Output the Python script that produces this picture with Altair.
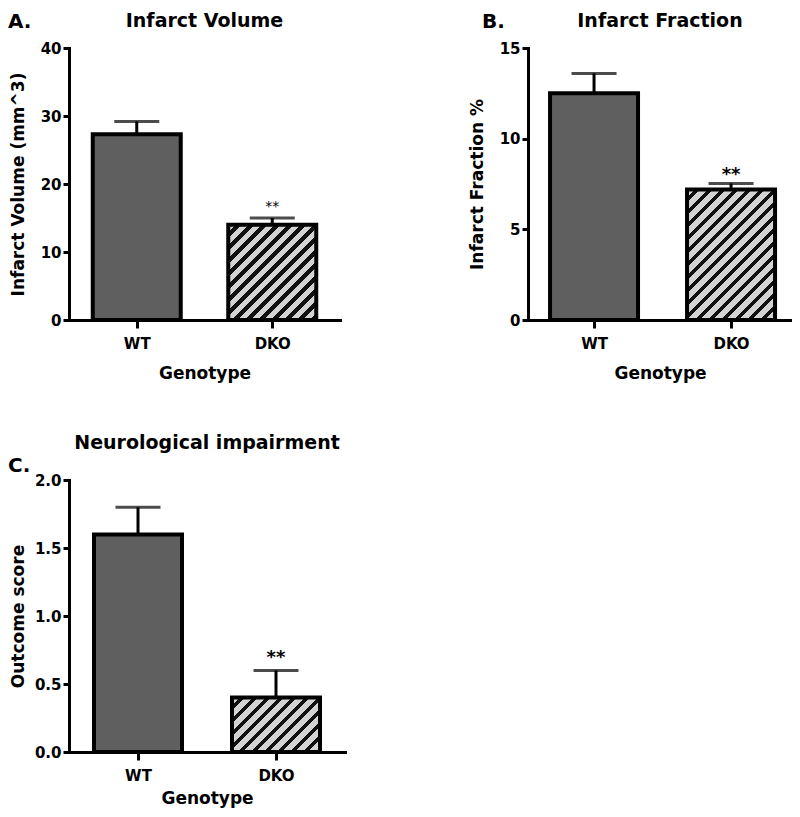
import altair as alt
import pandas as pd

# ---- data ----
categories = ["WT", "DKO"]
volume_mean = [27.3, 14.0]
volume_err = [1.9, 1.0]
fraction_mean = [12.5, 7.2]
fraction_err = [1.1, 0.33]
score_mean = [1.6, 0.4]
score_err = [0.2, 0.2]
stars = ["", "**"]

FONT = "DejaVu Sans"
PLOT_H = 272
BAR_W = 88


def hatch(value, ymax, width=BAR_W, period=13.0, black=0.42):
    """Diagonal hatch emulated with a hard-stop linear gradient (bbox units)."""
    h = value / ymax * PLOT_H
    w = width
    k = (w + h) / (w * w + h * h)
    step = period / (w + h)
    light, dark = "#d3d3d3", "#111111"
    stops = []
    t = 0.0
    while t < 1.0:
        b = min(t + step * (1 - black), 1.0)
        c = min(t + step, 1.0)
        stops += [
            {"offset": round(t, 5), "color": light},
            {"offset": round(b, 5), "color": light},
            {"offset": round(b, 5), "color": dark},
            {"offset": round(c, 5), "color": dark},
        ]
        t += step
    return {"gradient": "linear", "x1": 0, "y1": 0, "x2": k * w, "y2": k * h, "stops": stops}


def panel(means, errs, ymax, yticks, yfmt, ytitle, title, letter, width,
          xpad, xalign, star_size, star_weight, star_dy,
          xtitle_y, title_y, letter_x, letter_y, letter_size):
    df = pd.DataFrame({
        "genotype": categories,
        "mean": means,
        "upper": [m + e for m, e in zip(means, errs)],
        "star": stars,
    })
    base = alt.Chart(df)
    x = alt.X(
        "genotype:N",
        sort=categories,
        scale=alt.Scale(type="point", domain=categories, padding=xpad, align=xalign),
        axis=alt.Axis(title="Genotype", labelAngle=0, tickSize=8, labelPadding=8,
                      titleY=xtitle_y, titleBaseline="top"),
    )
    yaxis = alt.Axis(values=yticks, format=yfmt, title=ytitle, tickSize=6,
                     labelPadding=2, titleX=-51, titleY=PLOT_H / 2,
                     titleBaseline="middle", titleAngle=-90)
    yscale = alt.Scale(domain=[0, ymax], nice=False, zero=True)

    def Y(field):
        return alt.Y(field, scale=yscale, axis=yaxis, title=ytitle)

    wt = base.transform_filter(alt.datum.genotype == "WT").mark_bar(
        size=BAR_W, fill="#5f5f5f", stroke="black", strokeWidth=4
    ).encode(x=x, y=Y("mean:Q"))
    dko = base.transform_filter(alt.datum.genotype == "DKO").mark_bar(
        size=BAR_W, fill=hatch(means[1], ymax), stroke="black", strokeWidth=4
    ).encode(x=x, y=Y("mean:Q"))
    stem = base.mark_rule(color="black", strokeWidth=3).encode(
        x=x, y=Y("mean:Q"), y2="upper:Q"
    )
    cap = base.mark_tick(orient="horizontal", size=45, thickness=3, color="black").encode(
        x=x, y=Y("upper:Q")
    )
    star = base.mark_text(
        font=FONT, fontSize=star_size, fontWeight=star_weight, color="black",
        baseline="middle", dy=star_dy
    ).encode(x=x, y=Y("upper:Q"), text="star:N")
    one = alt.Chart(alt.Data(values=[{"k": 0}]))
    ttl = one.mark_text(font=FONT, fontSize=19, fontWeight="bold", color="black",
                        align="center", baseline="top").encode(
        x=alt.value(width / 2), y=alt.value(title_y), text=alt.value(title))
    let = one.mark_text(font=FONT, fontSize=letter_size, fontWeight="bold", color="black",
                        align="left", baseline="top").encode(
        x=alt.value(letter_x), y=alt.value(letter_y), text=alt.value(letter))
    return alt.layer(wt, dko, stem, cap, star, ttl, let).properties(width=width, height=PLOT_H)


A = panel(volume_mean, volume_err, 40, [0, 10, 20, 30, 40], "d", "Infarct Volume (mm^3)",
          "Infarct Volume", "A.", 271, 0.5, 0.5, 14, "normal", -11,
          45, -36, -61, -36, 20)
B = panel(fraction_mean, fraction_err, 15, [0, 5, 10, 15], "d", "Infarct Fraction %",
          "Infarct Fraction", "B.", 264, 0.4635, 0.52, 18, "bold", -8,
          45, -36, -46, -36, 20)
C = panel(score_mean, score_err, 2, [0, 0.5, 1.0, 1.5, 2.0], ".1f", "Outcome score",
          "Neurological impairment", "C.", 276, 0.5, 0.5, 18, "bold", -12,
          38, -46, -61, -24, 20)

chart = alt.concat(A, B, C, columns=2, spacing={"row": 160, "column": 183},
                   bounds="flush").properties(
    padding={"top": 4, "left": 0, "right": 0, "bottom": 3}, background="white"
).configure_view(stroke=None).configure_axis(
    labelFont=FONT, labelFontWeight="bold", labelFontSize=15, labelColor="black",
    titleFont=FONT, titleFontWeight="bold", titleFontSize=17, titleColor="black",
    domainColor="black", domainWidth=3, tickColor="black", tickWidth=3,
    domainCap="square", grid=False,
)

chart.save("out.html", embed_options={"renderer": "svg", "actions": False})
